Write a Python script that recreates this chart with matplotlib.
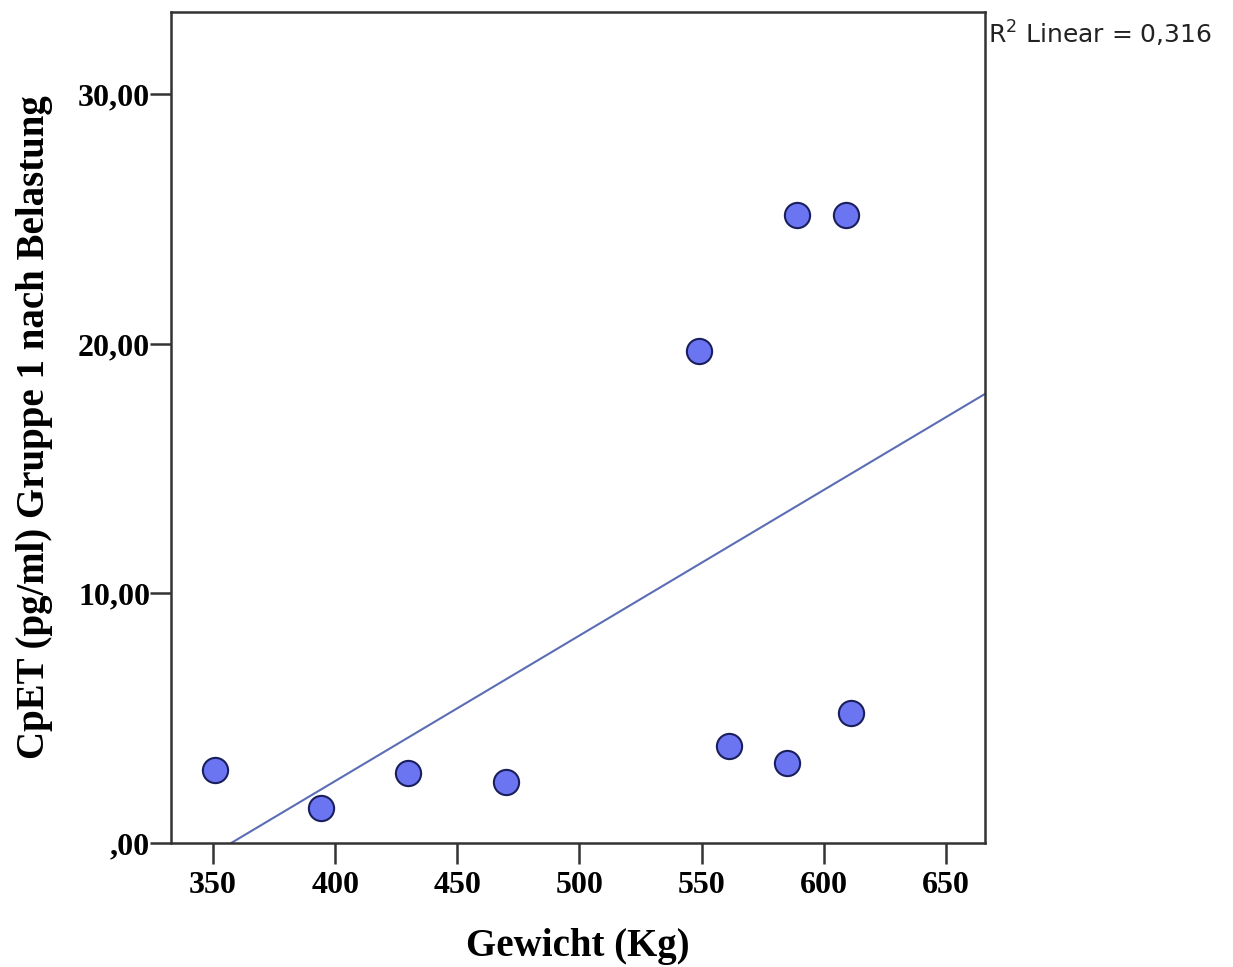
import numpy as np
import matplotlib.pyplot as plt

# Data
gewicht = np.array([351, 394, 430, 470, 549, 561, 585, 589, 609, 611])
cpet = np.array([2.92, 1.40, 2.80, 2.44, 19.70, 3.88, 3.20, 25.15, 25.15, 5.21])
r2_label = "R$^2$ Linear = 0,316"
x_ticks = [350, 400, 450, 500, 550, 600, 650]
y_ticks = [0, 10, 20, 30]
y_tick_labels = [",00", "10,00", "20,00", "30,00"]

fig = plt.figure(figsize=(12.33, 9.67), dpi=100)
ax = fig.add_axes([0.1387, 0.1282, 0.6602, 0.8594])

# Linear fit
slope, intercept = np.polyfit(gewicht, cpet, 1)
xlim = (332.8, 666.0)
xs = np.array(xlim)
ax.plot(xs, slope * xs + intercept, color='#5b6db5', linewidth=1.5, zorder=2)

ax.scatter(gewicht, cpet, s=330, facecolor='#6b75f2', edgecolor='#1a1f5c',
           linewidth=1.5, zorder=3)

ax.set_xlim(*xlim)
ax.set_ylim(0, 33.3)
ax.set_xticks(x_ticks)
ax.set_yticks(y_ticks)
ax.set_yticklabels(y_tick_labels)

for s in ax.spines.values():
    s.set_linewidth(1.8)
    s.set_color('#333333')

ax.tick_params(axis='both', direction='out', length=15, width=1.8,
               labelsize=23, color='#333333')
ax.tick_params(axis='y', pad=0)
ax.tick_params(axis='x', pad=5)
for lbl in ax.get_xticklabels() + ax.get_yticklabels():
    lbl.set_fontfamily('Liberation Serif')
    lbl.set_fontweight('bold')

ax.set_xlabel('Gewicht (Kg)', fontsize=28, fontweight='bold',
              fontfamily='Liberation Serif', labelpad=20)
ax.set_ylabel('CpET (pg/ml) Gruppe 1 nach Belastung', fontsize=28,
              fontweight='bold', fontfamily='Liberation Serif', labelpad=18)

fig.text(0.801, 0.965, r2_label, fontsize=18, fontfamily='DejaVu Sans',
         color='#222222', ha='left', va='center')

fig.savefig('out.png', dpi=100)
